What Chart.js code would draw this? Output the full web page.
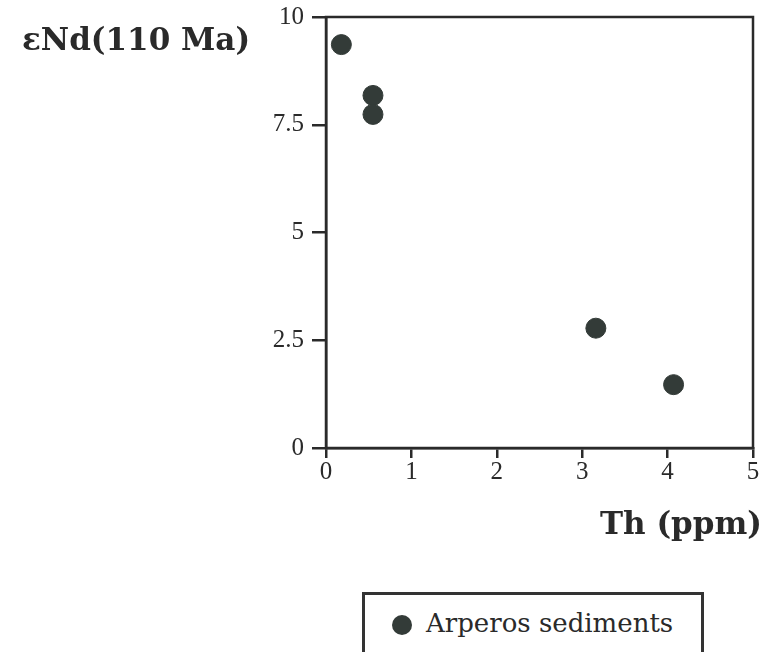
<!DOCTYPE html>
<html><head><meta charset="utf-8">
<script src="https://cdn.jsdelivr.net/npm/chart.js@4"></script>
<style>
html,body{margin:0;padding:0;background:#fff;}
#wrap{position:relative;width:769px;height:652px;}
canvas{position:absolute;left:0;top:0;}
.t{position:absolute;font-family:"DejaVu Serif",serif;color:#2a2a2a;white-space:nowrap;line-height:1;}
#ytitle{left:22px;top:24px;font-size:31px;font-weight:bold;}
#xtitle{left:600px;top:508px;font-size:31px;font-weight:bold;}
#legend{position:absolute;left:362px;top:592px;width:342px;height:62px;border:3px solid #333;border-bottom:none;box-sizing:border-box;background:#fff;}
#legend .dot{position:absolute;left:27px;top:20px;width:20px;height:20px;border-radius:50%;background:#333b38;}
#legend .lab{position:absolute;left:61px;top:15px;font-family:"DejaVu Serif",serif;font-size:26px;line-height:1;color:#2a2a2a;white-space:nowrap;}
</style></head>
<body><div id="wrap"><canvas id="c" width="769" height="652"></canvas>
<div class="t" id="ytitle">εNd(110 Ma)</div>
<div class="t" id="xtitle">Th (ppm)</div>
<div id="legend"><div class="dot"></div><div class="lab">Arperos sediments</div></div>
</div>
<script>
const seriesName = "Arperos sediments";
const thPpm = [0.18, 0.55, 0.55, 3.16, 4.07];
const eNd110 = [9.36, 8.18, 7.74, 2.78, 1.47];
const xTicks = [0, 1, 2, 3, 4, 5];
const yTicks = [0, 2.5, 5, 7.5, 10];

const pts = thPpm.map((x, i) => ({x: x, y: eNd110[i]}));
const frame = {
  id: 'frame',
  afterDraw(chart) {
    const a = chart.chartArea, ctx = chart.ctx;
    ctx.save(); ctx.strokeStyle = '#2a2a2a'; ctx.lineWidth = 2.5;
    ctx.strokeRect(a.left, a.top, a.right - a.left, a.bottom - a.top);
    ctx.restore();
  }
};
const tickFont = {family: '"Liberation Serif","DejaVu Serif",serif', size: 25, lineHeight: 1};
new Chart(document.getElementById('c'), {
  type: 'scatter',
  data: {datasets: [{label: seriesName, data: pts, backgroundColor: '#333b38', borderColor: '#333b38', pointRadius: 10, pointHoverRadius: 10}]},
  options: {
    responsive: false, animation: false, devicePixelRatio: 1,
    layout: {padding: {top: 17, right: 16, left: 0, bottom: 0}},
    plugins: {legend: {display: false}, tooltip: {enabled: false}},
    scales: {
      x: {type: 'linear', min: 0, max: 5,
        afterBuildTicks: s => { s.ticks = xTicks.map(v => ({value: v})); },
        afterFit: s => { s.height = 204; s.paddingLeft = 0; s.paddingRight = 0; },
        border: {display: true, color: '#2a2a2a', width: 2.5},
        grid: {display: true, drawOnChartArea: false, drawTicks: true, tickLength: 10, color: '#2a2a2a', lineWidth: 2.5},
        ticks: {color: '#2a2a2a', font: tickFont, padding: 2, maxRotation: 0, callback: v => String(v)}},
      y: {type: 'linear', min: 0, max: 10,
        afterBuildTicks: s => { s.ticks = yTicks.map(v => ({value: v})); },
        afterFit: s => { s.width = 326; s.paddingTop = 0; s.paddingBottom = 0; },
        border: {display: true, color: '#2a2a2a', width: 2.5},
        grid: {display: true, drawOnChartArea: false, drawTicks: true, tickLength: 14, color: '#2a2a2a', lineWidth: 2.5},
        ticks: {color: '#2a2a2a', font: tickFont, padding: 8, callback: v => String(v)}}
    }
  },
  plugins: [frame]
});
</script></body></html>
